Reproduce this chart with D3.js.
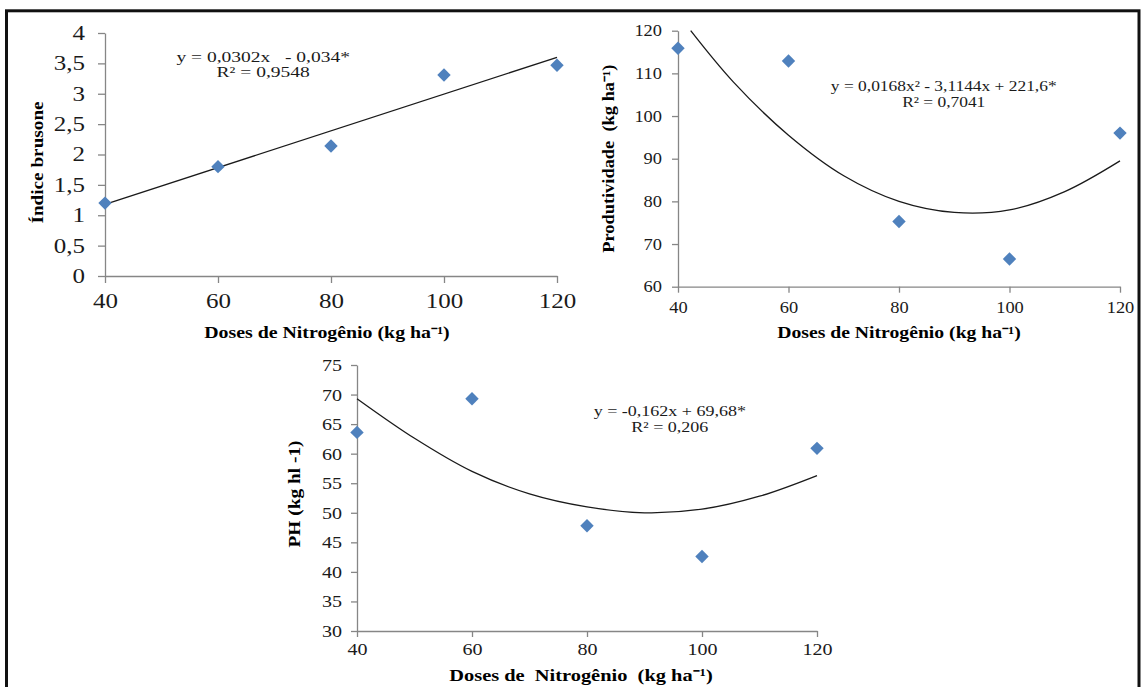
<!DOCTYPE html>
<html>
<head>
<meta charset="utf-8">
<script src="https://cdn.jsdelivr.net/npm/d3@7"></script>
<style>
body { margin: 0; background: #fff; }
text { font-family: "Liberation Serif", "Times New Roman", serif; white-space: pre; }
</style>
</head>
<body>
<div id="root"></div>
<script>
// doses de nitrogenio (kg/ha), same for the 3 panels
var doses = [40, 60, 80, 100, 120];
var doseTicks = [40, 60, 80, 100, 120];

// indice brusone
var brusone = [1.2, 1.8, 2.14, 3.31, 3.47];
var brusoneTrend = [[40, 1.18], [120, 3.6]];
var brusoneTicks = [0, 0.5, 1, 1.5, 2, 2.5, 3, 3.5, 4];
var brusoneEq = ["y = 0,0302x   - 0,034*", "R² = 0,9548"];

// produtividade
var produtividade = [115.9, 112.9, 75.3, 66.5, 96];
var produtividadeTrend = [[42.3, 120], [50, 108], [60, 95.5], [70, 86], [80, 80], [90, 77.4], [100, 78], [110, 82.3], [120, 89.5]];
var produtividadeTicks = [60, 70, 80, 90, 100, 110, 120];
var produtividadeEq = ["y = 0,0168x² - 3,1144x + 221,6*", "R² = 0,7041"];

// PH
var ph = [63.6, 69.3, 47.8, 42.6, 60.9];
var phTrend = [[40, 69.3], [50, 62.6], [60, 57.0], [70, 53.2], [80, 51.0], [90, 50.0], [100, 50.6], [110, 52.8], [120, 56.3]];
var phTicks = [30, 35, 40, 45, 50, 55, 60, 65, 70, 75];
var phEq = ["y = -0,162x + 69,68*", "R² = 0,206"];

var w = 1141;
var h = 687;
var blue = "#4f81bd";
var axisColor = "#868686";

var svg = d3.select("#root").append("svg").attr("width", w).attr("height", h);
svg.append("rect").attr("width", w).attr("height", h).attr("fill", "white");

// stretch text horizontally (the original fonts are wide)
function stretch(sel, k) {
  sel.each(function() {
    var len = this.getComputedTextLength();
    d3.select(this).attr("textLength", len * k).attr("lengthAdjust", "spacingAndGlyphs");
  });
}

function comma(d) {
  return String(d).replace(".", ",");
}

function drawPanel(p) {
  var xScale = d3.scaleLinear().domain([40, 120]).range([p.left, p.right]);
  var yScale = d3.scaleLinear().domain(p.yDomain).range([p.bottom, p.top]);
  var g = svg.append("g");

  // x axis
  var xAxis = d3.axisBottom(xScale).tickValues(doseTicks).tickSize(p.tickSize).tickSizeOuter(0).tickPadding(p.xPad);
  var gx = g.append("g").attr("transform", "translate(0," + p.bottom + ")").call(xAxis);
  // y axis
  var yAxis = d3.axisLeft(yScale).tickValues(p.yTicks).tickSize(p.tickSize).tickSizeOuter(0).tickPadding(p.yPad).tickFormat(comma);
  var gy = g.append("g").attr("transform", "translate(" + p.left + ",0)").call(yAxis);

  [gx, gy].forEach(function(a) {
    a.select(".domain").attr("stroke", axisColor).attr("stroke-width", 1.3);
    a.selectAll(".tick line").attr("stroke", axisColor).attr("stroke-width", 1.3);
    a.selectAll(".tick text").attr("fill", "#1a1a1a").style("font-size", p.tickFont + "px").style("font-family", "Liberation Serif");
    stretch(a.selectAll(".tick text"), p.tickStretch);
  });

  // trend line
  var line = d3.line().x(function(d) { return xScale(d[0]); }).y(function(d) { return yScale(d[1]); }).curve(d3.curveCatmullRom);
  g.append("path").datum(p.trend).attr("d", line).attr("fill", "none").attr("stroke", "#1a1a1a").attr("stroke-width", 1.3);

  // diamonds
  var diamond = d3.symbol(d3.symbolSquare, 90);
  g.selectAll(".pt").data(p.values).enter().append("path").attr("d", diamond).attr("fill", blue)
    .attr("transform", function(d, i) {
      return "translate(" + xScale(doses[i]) + "," + yScale(d) + ") rotate(45)";
    });

  // equation
  var eq = g.append("text").attr("text-anchor", "middle").style("font-size", p.eqFont + "px").attr("fill", "#1a1a1a");
  p.eq.forEach(function(s, i) {
    eq.append("tspan").attr("x", xScale(p.eqAt[0])).attr("y", yScale(p.eqAt[1]) + i * p.eqGap).text(s);
  });
  eq.selectAll("tspan").each(function() {
    var len = this.getComputedTextLength();
    d3.select(this).attr("textLength", len * p.eqStretch).attr("lengthAdjust", "spacingAndGlyphs");
  });

  // axis titles
  var xt = g.append("text").attr("x", (p.left + p.right) / 2 + p.xTitleShift).attr("y", p.bottom + p.xTitleOff)
    .attr("text-anchor", "middle").style("font-size", p.titleFont + "px").style("font-weight", "bold").text(p.xTitle);
  stretch(xt, p.titleStretch);
  var yt = g.append("text").attr("transform", "translate(" + (p.left - p.yTitleOff) + "," + ((p.top + p.bottom) / 2 + p.yTitleShift) + ") rotate(-90)")
    .attr("text-anchor", "middle").style("font-size", p.titleFont + "px").style("font-weight", "bold").text(p.yTitle);
  stretch(yt, p.yTitleStretch);
}

drawPanel({
  left: 105, right: 557, top: 33, bottom: 276,
  yDomain: [0, 4], yTicks: brusoneTicks, values: brusone, trend: brusoneTrend,
  tickSize: 7, xPad: 11, yPad: 13, tickFont: 20, tickStretch: 1.25,
  eq: brusoneEq, eqAt: [68, 3.52], eqGap: 14.5, eqFont: 15, eqStretch: 1.3,
  xTitle: "Doses de Nitrogênio (kg ha⁻¹)", xTitleOff: 62, xTitleShift: -4,
  yTitle: "Índice brusone", yTitleOff: 62, yTitleShift: 8,
  titleFont: 16, titleStretch: 1.24, yTitleStretch: 1.2
});

drawPanel({
  left: 678, right: 1120, top: 30.7, bottom: 286.7,
  yDomain: [60, 120], yTicks: produtividadeTicks, values: produtividade, trend: produtividadeTrend,
  tickSize: 6, xPad: 8.6, yPad: 10, tickFont: 16, tickStretch: 1.15,
  eq: produtividadeEq, eqAt: [88.1, 105.9], eqGap: 16, eqFont: 14.5, eqStretch: 1.2,
  xTitle: "Doses de Nitrogênio (kg ha⁻¹)", xTitleOff: 51, xTitleShift: 0,
  yTitle: "Produtividade  (kg ha⁻¹)", yTitleOff: 64, yTitleShift: 0,
  titleFont: 16, titleStretch: 1.23, yTitleStretch: 1.15
});

drawPanel({
  left: 357, right: 817, top: 365, bottom: 631,
  yDomain: [30, 75], yTicks: phTicks, values: ph, trend: phTrend,
  tickSize: 6, xPad: 6, yPad: 9, tickFont: 17, tickStretch: 1.18,
  eq: phEq, eqAt: [94.4, 66.4], eqGap: 16, eqFont: 15, eqStretch: 1.2,
  xTitle: "Doses de  Nitrogênio  (kg ha⁻¹)", xTitleOff: 50, xTitleShift: -6,
  yTitle: "PH (kg hl -1)", yTitleOff: 57, yTitleShift: -4,
  titleFont: 17, titleStretch: 1.2, yTitleStretch: 1.14
});

// outer frame
svg.append("rect").attr("x", 6.5).attr("y", 10.8).attr("width", 1132.5).attr("height", 720)
  .attr("fill", "none").attr("stroke", "#111").attr("stroke-width", 3);
</script>
</body>
</html>
